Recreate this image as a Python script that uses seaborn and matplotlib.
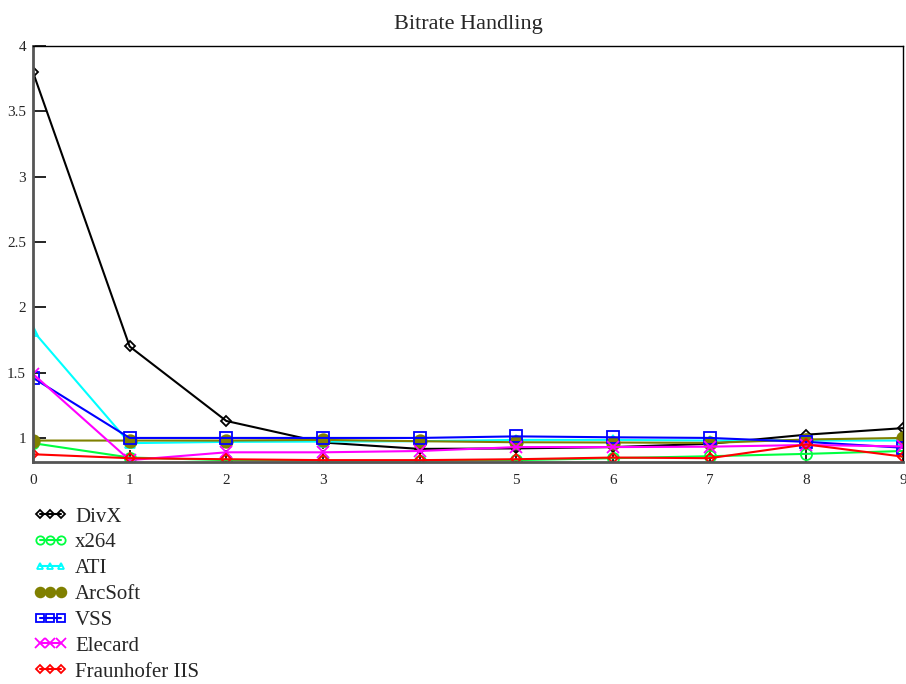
import matplotlib
matplotlib.use("Agg")
import matplotlib.pyplot as plt
import seaborn as sns
import pandas as pd
from matplotlib.lines import Line2D

x = [0, 1, 2, 3, 4, 5, 6, 7, 8, 9]
divx = [3.80, 1.70, 1.13, 0.965, 0.916, 0.92, 0.93, 0.955, 1.025, 1.075]
x264 = [0.96, 0.85, 0.83, 0.826, 0.826, 0.83, 0.845, 0.86, 0.878, 0.90]
ati = [1.82, 0.96, 0.97, 0.972, 0.975, 0.985, 0.985, 0.98, 0.98, 0.98]
arcsoft = [0.98, 0.98, 0.98, 0.985, 0.975, 0.967, 0.965, 0.962, 0.988, 1.0]
vss = [1.46, 1.0, 1.0, 1.0, 1.0, 1.012, 1.005, 1.0, 0.97, 0.925]
elecard = [1.49, 0.83, 0.89, 0.89, 0.90, 0.93, 0.93, 0.933, 0.946, 0.935]
fraunhofer = [0.875, 0.845, 0.837, 0.83, 0.83, 0.837, 0.85, 0.845, 0.95, 0.857]

names = ["DivX", "x264", "ATI", "ArcSoft", "VSS", "Elecard", "Fraunhofer IIS"]
series = [divx, x264, ati, arcsoft, vss, elecard, fraunhofer]
colors = ["#000000", "#00ff40", "#00ffff", "#808000", "#0000ff", "#ff00ff", "#ff0000"]
markers = ["D", "o", "^", "o", "s", "x", "D"]
msizes = [5, 8, 7, 9, 8, 9, 5]
leg_msizes = [4, 6, 5, 7, 6, 7, 4]
filled = [False, False, False, True, False, True, False]
ticklabels_y = ["1", "1.5", "2", "2.5", "3", "3.5", "4"]
yticks = [1, 1.5, 2, 2.5, 3, 3.5, 4]

sns.set_theme(style="white")
plt.rcParams["font.family"] = ["Liberation Serif", "DejaVu Serif"]

fig = plt.figure(figsize=(9.06, 6.84), dpi=100)
ax = fig.add_axes([0.0364, 0.3246, 0.9603, 0.6081])

handles = []
for name, vals, c, m, ms, lms, f in zip(names, series, colors, markers, msizes, leg_msizes, filled):
    df = pd.DataFrame({"x": x, "y": vals})
    mfc = c if f else "none"
    sns.lineplot(data=df, x="x", y="y", ax=ax, color=c, marker=m,
                 markersize=ms, markerfacecolor=mfc, markeredgecolor=c,
                 markeredgewidth=1.3, linewidth=1.5, legend=False)
    handles.append(Line2D([0], [0], color=c, marker=m, markersize=lms,
                          markerfacecolor=mfc, markeredgecolor=c,
                          markeredgewidth=1.3, linewidth=1.5, label=name))

ax.set_xlim(0, 9)
ax.set_ylim(0.816, 4)
ax.set_xticks(x)
ax.set_xticklabels([str(v) for v in x])
ax.set_yticks(yticks)
ax.set_yticklabels(ticklabels_y)
ax.set_xlabel("")
ax.set_ylabel("")
ax.tick_params(axis="both", direction="in", length=9, width=1.2, color="black",
               labelsize=11, left=True, bottom=True)
ax.tick_params(axis="x", pad=9)
ax.tick_params(axis="y", pad=5)
for side in ["top", "right"]:
    ax.spines[side].set_color("black")
    ax.spines[side].set_linewidth(1.0)
for side in ["left", "bottom"]:
    ax.spines[side].set_color("#555555")
    ax.spines[side].set_linewidth(2.0)

ax.set_title("Bitrate Handling", fontsize=16, pad=12)

fig.legend(handles=handles, loc="upper left", bbox_to_anchor=(0.03, 0.268),
           frameon=False, numpoints=3, handlelength=1.6, handletextpad=0.4,
           labelspacing=0.3, fontsize=15, borderaxespad=0, borderpad=0.3)

fig.savefig("out.png", dpi=100)
